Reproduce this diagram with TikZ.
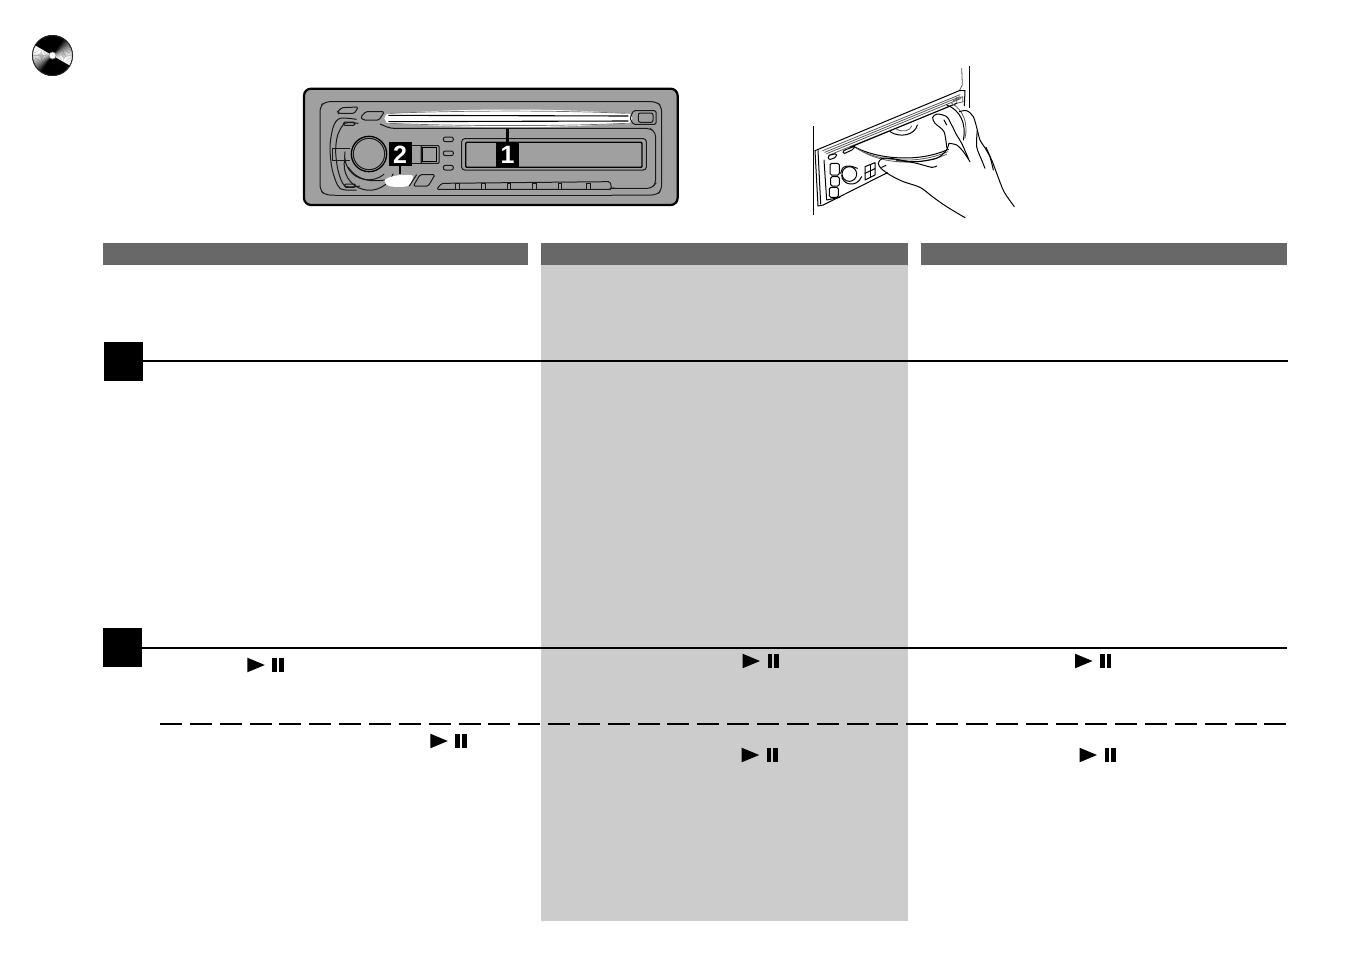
\documentclass[tikz,border=0pt]{standalone}
\usepackage{fontspec}
\setmainfont{Liberation Sans}
\usetikzlibrary{calc}
\definecolor{headgray}{HTML}{686868}
\definecolor{colgray}{HTML}{CCCCCC}
\definecolor{devgray}{HTML}{A0A0A0}
\tikzset{
  headbar/.style={fill=headgray,draw=none},
  blacksq/.style={fill=black,draw=none,minimum size=39pt,inner sep=0pt,outer sep=0pt},
  rulel/.style={line width=2pt,black},
  dashl/.style={line width=2pt,black,dash pattern=on 22pt off 7.85pt},
  num/.style={fill=black,text=white,inner sep=0pt,outer sep=0pt,minimum width=23pt,minimum height=24pt,font=\bfseries\fontsize{25}{25}\selectfont},
  dl/.style={line width=1pt,black!90},
  dlk/.style={line width=1.3pt,black},
  hl/.style={line width=1pt,black,line cap=round,line join=round},
  hg/.style={line width=0.8pt,black!65,line cap=round,line join=round},
  pics/playpause/.style={code={
    \fill (0,-7.3)--(17.5,0)--(0,7.3)--cycle;
    \fill (25,-7) rectangle (29.7,7);
    \fill (31.7,-7) rectangle (36.4,7);}},
}
\begin{document}
\begin{tikzpicture}[x=1pt,y=-1pt]
\useasboundingbox (0,0) rectangle (1352,954);
\fill[white] (0,0) rectangle (1352,954);
% column and headers
\fill[colgray] (541,265) rectangle (908,921);
\fill[headbar] (103,243) rectangle (528,265);
\fill[headbar] (541,243) rectangle (908,265);
\fill[headbar] (921,243) rectangle (1287,265);
% squares & rules
\node[blacksq] (sqa) at (123.5,361.5) {};
\node[blacksq] (sqb) at (122.5,647.5) {};
\coordinate (ea) at (1288,361);
\coordinate (eb) at (1287,648);
\coordinate (ds) at (160,723.5);
\coordinate (de) at (1287,723.5);
\draw[rulel] (sqa.east |- ea) -- (ea);
\draw[rulel] (sqb.east |- eb) -- (eb);
\draw[dashl] (ds) -- (de);
% play/pause
\pic (ppa) at (247.3,665) {playpause};
\pic (ppb) at (430.3,741) {playpause};
\pic (ppc) at (742.5,661) {playpause};
\pic (ppd) at (1075,661) {playpause};
\pic (ppe) at (741.7,755) {playpause};
\pic (ppf) at (1079.5,755) {playpause};
% disc icon
\begin{scope}[shift={(52.5,55.5)},x=1pt,y=1pt]
  \fill[black] (0,0) circle (20.5);
  \foreach \i in {0,...,17}{
    \pgfmathsetmacro{\aa}{150+\i*5}
    \pgfmathsetmacro{\ab}{\aa+5.4}
    \pgfmathsetmacro{\p}{min(100,\i*\i*0.36)}
    \fill[black!\p] (0,0) -- (\aa:20) arc (\aa:\ab:20) -- cycle;
    \pgfmathsetmacro{\ac}{330+\i*5}
    \pgfmathsetmacro{\ad}{\ac+5.4}
    \fill[black!\p] (0,0) -- (\ac:20) arc (\ac:\ad:20) -- cycle;
  }
  \draw[black!85,line width=0.8pt] (0,0) circle (20);
  \fill[white] (0,0) circle (3.6);
  \draw[black!60,line width=0.5pt] (0,0) circle (3.6);
\end{scope}
% car stereo front
\begin{scope}[shift={(295,80)},x=0.33333pt,y=-0.33333pt]
  \draw[fill=devgray,line width=2.2pt,rounded corners=7pt] (27,26) rectangle (1148,375);
  % panel outline
  \draw[dl,rounded corners=5pt] (120,345) -- (90,345) -- (75,330) -- (75,80) -- (90,65) -- (1085,65) -- (1100,80) -- (1100,330) -- (1085,345) -- (950,345);
  \draw[dl] (120,345) -- (950,345);
  % left housing
  \draw[dl] plot[smooth] coordinates {(185,118) (135,115) (115,140) (105,200) (112,270) (135,325) (185,330)};
  \draw[dl] plot[smooth] coordinates {(190,130) (150,130) (128,165) (122,215) (130,275) (150,318) (195,318)};
  \draw[dl,rounded corners=1.5pt] (145,126) rectangle (180,136);
  \draw[dl,rounded corners=1.5pt] (148,312) rectangle (182,322);
  \draw[dl] (112,205) -- (112,240) -- (165,240);
  \draw[dl] (112,205) -- (165,205);
  % top buttons
  \draw[dl,rounded corners=1.5pt] (128,95) -- (140,83) -- (190,81) -- (178,100) -- (130,100) -- cycle;
  \draw[dl,rounded corners=1.5pt] (197,112) -- (212,95) -- (268,95) -- (252,120) -- (205,120) -- cycle;
  % slot
  \fill[white] (268,115) -- (275,102) .. controls (500,84) and (800,84) .. (1005,102) -- (1012,115) -- (1005,128) .. controls (800,146) and (500,146) .. (275,128) -- cycle;
  \draw[line width=0.7pt,black!55] (285,100) .. controls (500,91) and (800,91) .. (990,100);
  \draw[line width=0.7pt,black!55] (285,130) .. controls (500,139) and (800,139) .. (990,130);
  \draw[line width=1.1pt,black] (280,106) -- (1000,108);
  \draw[line width=1.1pt,black] (280,125) -- (1000,123);
  \draw[dl,rounded corners=1.5pt] (1015,92) -- (1083,92) -- (1083,133) -- (1015,133) -- (1005,115) -- cycle;
  \draw[dl,rounded corners=2pt] (1030,99) rectangle (1074,127);
  % inner frame
  \draw[dl,rounded corners=4pt] (255,132) -- (285,145) -- (1065,145) -- (1082,158) -- (1082,310) -- (1070,325) -- (950,325);
  % knob
  \draw[dlk] (222,222) circle (53);
  \draw[dl] (222,222) circle (47);
  \draw[dl] (150,235) arc (195:20:76);
  \draw[dl] (150,215) arc (190:50:72);
  \draw[dl] (160,262) .. controls (190,305) and (230,305) .. (270,300);
  % square buttons
  \draw[dl] (340,197) rectangle (378,250);
  \draw[dl] (348,197) -- (348,250);
  \draw[dl,rounded corners=1pt] (378,197) rectangle (432,250);
  \draw[dlk] (382,203) rectangle (424,245);
  % pills
  \foreach \yy in {178,220,263}{
    \draw[dl,rounded corners=2pt] (445,\yy-7) rectangle (475,\yy+7);
  }
  % display
  \draw[dl,rounded corners=3pt] (500,176) rectangle (1054,270);
  \draw[dlk,rounded corners=1pt] (512,187) rectangle (1041,262);
  % buttons
  \fill[white] (268,303) .. controls (275,285) and (345,280) .. (355,288) .. controls (350,305) and (345,320) .. (330,320) .. controls (300,322) and (270,322) .. (268,303) -- cycle;
  \draw[dl,rounded corners=1.5pt] (355,318) -- (375,284) -- (420,284) -- (400,318) -- cycle;
  \draw[dl] (343,318) -- (365,284);
  \draw[dl,rounded corners=1.5pt] (425,328) -- (440,310) -- (945,305) -- (950,325) -- (945,328) -- cycle;
  \foreach \xx in {487,565,641,718,795,880}{
    \draw[dl,fill=devgray] (\xx-5,309) rectangle (\xx+5,328);
  }
  % callouts
  \node[num] (nb) at (315,223) {2};
  \node[num] (na) at (638,225) {1};
  \coordinate (ca) at (638,148);
  \coordinate (cb) at (315,282);
  \draw[line width=2.6pt] (ca) -- (na.north);
  \draw[line width=2.6pt] (nb.south) -- (cb);
\end{scope}
% hand and disc illustration
\begin{scope}[shift={(800,60)},x=0.33333pt,y=-0.33333pt]
  % walls
  \draw[line width=0.9pt] (508,18) -- (508,145);
  \draw[line width=0.9pt] (40,198) -- (40,465);
  \draw[hg] (485,25) -- (487,75) -- (478,92);
  % faceplate
  \draw[hl] (45,272) -- (478,92) -- (495,92) -- (493,137);
  \draw[hl] (45,272) -- (54,438) -- (70,435) -- (262,338);
  \draw[hl] (54,272) -- (62,432);
  \draw[hg] (68,272) -- (480,104);
  \draw[hg] (74,277) -- (480,110);
  \draw[hg] (80,281) -- (482,116);
  \draw[hg] (86,286) -- (470,130);
  \draw[hl] (150,262) -- (470,130);
  \draw[hg] (470,112) -- (470,130) -- (490,125);
  \draw[hg] (460,122) -- (488,110) -- (488,125);
  \draw[hl,rounded corners=1.5pt] (84,287) -- (110,280) -- (108,292) -- (86,300) -- cycle;
  \draw[hl,rounded corners=1.5pt] (128,273) -- (165,258) -- (160,268) -- (130,282) -- cycle;
  % controls
  \draw[hl] (148,342) circle (22);
  \draw[hl] plot[smooth] coordinates {(122,340) (130,322) (150,318) (172,325)};
  \draw[hl] (125,345) .. controls (125,375) and (170,385) .. (185,350);
  \draw[hl,rounded corners=1.5pt] (90,310) rectangle (118,345);
  \draw[hl,rounded corners=1.5pt] (92,350) rectangle (118,378);
  \draw[hl,rounded corners=1.5pt] (88,382) rectangle (115,412);
  \draw[hl] (72,300) -- (80,420) -- (120,412);
  \draw[hl] (195,320) -- (225,308) -- (225,345) -- (195,360) -- cycle;
  \draw[hl] (195,340) -- (225,326);
  \draw[hl] (210,314) -- (210,350);
  % disc
  \draw[hl] (160,258) .. controls (210,290) and (340,315) .. (445,268);
  \draw[hg] (168,264) .. controls (220,298) and (340,320) .. (443,275);
  \draw[hg] (180,270) .. controls (230,304) and (340,325) .. (440,283);
  \draw[hl] (270,215) .. controls (300,235) and (345,225) .. (352,195);
  \draw[hg] (290,208) .. controls (310,218) and (330,212) .. (335,198);
  \draw[hl] (440,135) .. controls (480,150) and (500,190) .. (490,240);
  \draw[hg] (455,130) .. controls (490,150) and (505,190) .. (495,235);
  % thumb and lower hand
  \draw[hl] plot[smooth] coordinates {(300,300) (270,295) (245,296) (235,310) (243,325) (270,345) (310,365) (360,382) (400,412) (440,440) (495,473)};
  \draw[hl] plot[smooth] coordinates {(300,300) (350,310) (395,322) (410,318)};
  \draw[hl] plot[smooth] coordinates {(290,302) (350,305) (410,295) (438,272) (447,250)};
  \draw[hl] (245,322) -- (258,316);
  % finger
  \draw[hl] plot[smooth] coordinates {(447,250) (470,255) (490,275) (510,305)};
  \draw[hl] plot[smooth] coordinates {(440,262) (432,215) (405,190) (398,172) (412,162) (440,170) (455,195) (470,225) (485,250) (505,295)};
  \draw[hl] (432,180) -- (440,195);
  \draw[hl] plot[smooth] coordinates {(478,155) (500,152) (520,170) (532,210) (540,240) (556,265) (575,300) (592,345) (612,395) (643,440)};
  \draw[hl] plot[smooth] coordinates {(532,210) (530,260) (545,300) (555,325)};
  \draw[hl] plot[smooth] coordinates {(558,262) (570,290) (580,330)};
\end{scope}
\end{tikzpicture}
\end{document}
